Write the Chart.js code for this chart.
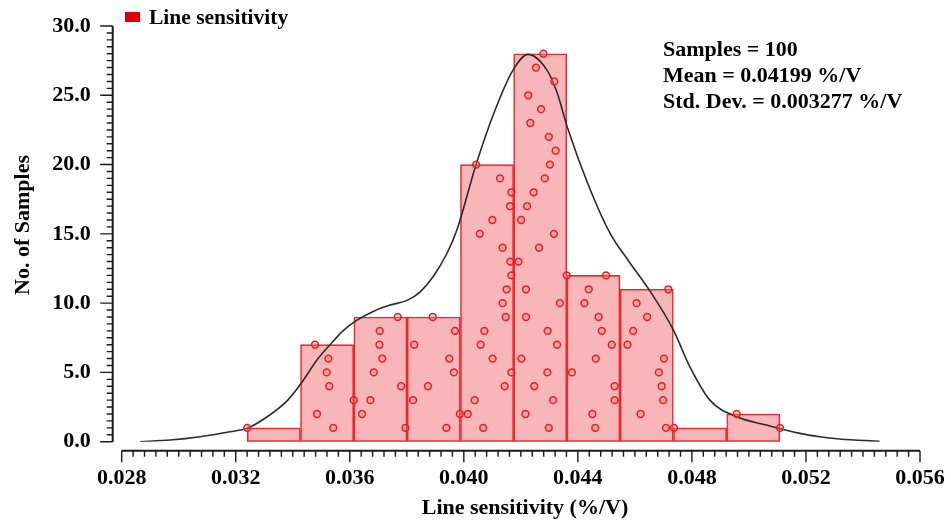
<!DOCTYPE html>
<html>
<head>
<meta charset="utf-8">
<script src="https://cdn.jsdelivr.net/npm/chart.js@4.4.0/dist/chart.umd.min.js"></script>
<style>
  body { margin: 0; background: #fff; }
  canvas { display: block; }
</style>
</head>
<body>
<canvas id="hist-canvas" width="951" height="523"></canvas>
<script>
// histogram bins (edges in %/V) and counts
var binEdges = [0.03240, 0.03427, 0.03614, 0.03801, 0.03988, 0.04175, 0.04361, 0.04548, 0.04735, 0.04922, 0.05109];
var binCounts = [1, 7, 9, 9, 20, 28, 12, 11, 1, 2];

// measured samples, grouped by bin and stacked from the bottom up
var sampleValues = [
    0.03240,
    0.03542, 0.03485, 0.03614, 0.03528, 0.03519, 0.03525, 0.03478,
    0.03795, 0.03643, 0.03672, 0.03780, 0.03684, 0.03714, 0.03704, 0.03705, 0.03768,
    0.03939, 0.03986, 0.03822, 0.03874, 0.03965, 0.03949, 0.03826, 0.03969, 0.03891,
    0.04068, 0.04014, 0.04038, 0.04143, 0.04167, 0.04101, 0.04059, 0.04072, 0.04147, 0.04136,
    0.04150, 0.04167, 0.04163, 0.04136, 0.04056, 0.04100, 0.04162, 0.04167, 0.04127, 0.04043,
    0.04298, 0.04216, 0.04313, 0.04247, 0.04293, 0.04202, 0.04327, 0.04294, 0.04218, 0.04337,
    0.04218, 0.04361, 0.04192, 0.04264, 0.04316, 0.04201, 0.04222, 0.04245, 0.04284, 0.04302,
    0.04322, 0.04298, 0.04233, 0.04271, 0.04226, 0.04317, 0.04253, 0.04279,
    0.04461, 0.04451, 0.04529, 0.04529, 0.04379, 0.04463, 0.04519, 0.04484, 0.04473, 0.04423, 0.04438, 0.04499,
    0.04709, 0.04620, 0.04699, 0.04694, 0.04684, 0.04702, 0.04574, 0.04594, 0.04643, 0.04606, 0.04717,
    0.04737,
    0.05109, 0.04957
];

// distribution curve
var curveX = [0.02864, 0.02970, 0.03075, 0.03180, 0.03240, 0.03296, 0.03380, 0.03429, 0.03485, 0.03531,
              0.03576, 0.03624, 0.03682, 0.03741, 0.03801, 0.03846, 0.03892, 0.03941, 0.03976, 0.04043,
              0.04109, 0.04172, 0.04225, 0.04292, 0.04327, 0.04363, 0.04443, 0.04514, 0.04576, 0.04652,
              0.04734, 0.04793, 0.04863, 0.04957, 0.05062, 0.05178, 0.05248, 0.05318, 0.05458];
var curveY = [0.0, 0.12, 0.36, 0.72, 0.97, 1.6, 2.95, 4.2, 5.9, 7.0,
              8.0, 8.75, 9.4, 9.86, 10.2, 10.8, 11.9, 13.6, 15.3, 20.0,
              23.9, 26.8, 27.95, 26.8, 25.2, 22.7, 18.2, 15.0, 13.1, 10.9,
              8.1, 5.4, 3.0, 1.8, 1.2, 0.6, 0.36, 0.2, 0.02];

var statLines = ['Samples = 100', 'Mean = 0.04199 %/V', 'Std. Dev. = 0.003277 %/V'];
var legendLabel = 'Line sensitivity';
var xTitle = 'Line sensitivity (%/V)';
var yTitle = 'No. of Samples';

var serif = '"Liberation Serif", "Times New Roman", serif';

// bars sit at bin centres
var barData = binCounts.map(function(n, i) {
    return { x: (binEdges[i] + binEdges[i + 1]) / 2, y: n };
});

// each sample stacked at level 1..n inside its bin
var pointData = [];
var k = 0;
binCounts.forEach(function(n) {
    for (var level = 1; level <= n; level++) {
        pointData.push({ x: sampleValues[k], y: level });
        k++;
    }
});

var curveData = curveX.map(function(x, i) { return { x: x, y: curveY[i] }; });

// axis lines are drawn a little away from the plot, with major and minor ticks,
// plus the axis titles, legend and statistics text
var offsetAxes = {
    id: 'offsetAxes',
    afterDraw: function(chart) {
        var c = chart.ctx;
        var xs = chart.scales.x, ys = chart.scales.y;
        var axisLeft = xs.left - 9;
        var axisBottom = ys.bottom + 9;
        c.save();
        c.strokeStyle = '#1a1a1a';
        c.lineWidth = 2;
        c.beginPath();
        c.moveTo(axisLeft, ys.getPixelForValue(30));
        c.lineTo(axisLeft, ys.getPixelForValue(0));
        c.moveTo(xs.getPixelForValue(0.028), axisBottom);
        c.lineTo(xs.getPixelForValue(0.056), axisBottom);
        c.stroke();

        c.lineWidth = 1.4;
        c.beginPath();
        for (var i = 0; i <= 60; i++) {
            var py = ys.getPixelForValue(i * 0.5);
            var len = (i % 10 === 0) ? 12.5 : 6;
            c.moveTo(axisLeft, py);
            c.lineTo(axisLeft - len, py);
        }
        for (var j = 0; j <= 70; j++) {
            var px = xs.getPixelForValue(0.028 + j * 0.0004);
            var tl = (j % 10 === 0) ? 11.5 : 6;
            c.moveTo(px, axisBottom);
            c.lineTo(px, axisBottom + tl);
        }
        c.stroke();

        c.fillStyle = '#000';
        c.font = 'bold 22px ' + serif;
        c.textAlign = 'center';
        c.textBaseline = 'middle';
        c.fillText(xTitle, 525, 508.5);
        c.save();
        c.translate(23.5, 225);
        c.rotate(-Math.PI / 2);
        c.fillText(yTitle, 0, 0);
        c.restore();

        // legend
        c.fillStyle = '#dd0000';
        c.fillRect(125, 12, 15, 10);
        c.fillStyle = '#000';
        c.font = 'bold 21.5px ' + serif;
        c.textBaseline = 'alphabetic';
        c.textAlign = 'left';
        c.fillText(legendLabel, 149, 24);

        // statistics box
        c.font = 'bold 22px ' + serif;
        statLines.forEach(function(s, n) {
            c.fillText(s, 663, 56 + n * 26);
        });
        c.restore();
    }
};

var ctx = document.getElementById('hist-canvas').getContext('2d');
var chart = new Chart(ctx, {
    type: 'bar',
    data: {
        datasets: [
            {
                type: 'scatter',
                label: 'samples',
                data: pointData,
                pointRadius: 3.4,
                pointBorderWidth: 1.5,
                borderColor: 'rgb(232, 30, 38)',
                backgroundColor: 'rgba(255, 120, 120, 0.35)',
                order: 0
            },
            {
                type: 'line',
                label: 'distribution',
                data: curveData,
                borderColor: '#2b2b2b',
                borderWidth: 1.6,
                pointRadius: 0,
                fill: false,
                cubicInterpolationMode: 'monotone',
                order: 1
            },
            {
                label: legendLabel,
                data: barData,
                backgroundColor: 'rgba(240, 80, 85, 0.42)',
                borderColor: 'rgb(235, 35, 40)',
                borderWidth: 1,
                borderSkipped: false,
                barPercentage: 1,
                categoryPercentage: 1,
                order: 2
            }
        ]
    },
    options: {
        responsive: false,
        animation: false,
        layout: { padding: { top: 26, right: 31, left: 0, bottom: 0 } },
        plugins: {
            legend: { display: false },
            tooltip: { enabled: false }
        },
        scales: {
            x: {
                type: 'linear',
                offset: false,
                min: 0.028,
                max: 0.056,
                grid: { display: false, drawTicks: false },
                border: { display: false },
                ticks: {
                    stepSize: 0.004,
                    autoSkip: false,
                    maxRotation: 0,
                    padding: 23.5,
                    color: '#000',
                    font: { family: serif, size: 22, weight: 'bold' },
                    callback: function(v) { return v.toFixed(3); }
                },
                afterFit: function(scale) {
                    scale.height = 81.3;
                    scale.paddingLeft = 0;
                    scale.paddingRight = 0;
                }
            },
            y: {
                min: 0,
                max: 30,
                grid: { display: false, drawTicks: false },
                border: { display: false },
                ticks: {
                    stepSize: 5,
                    padding: 31,
                    color: '#000',
                    font: { family: serif, size: 22, weight: 'bold' },
                    callback: function(v) { return v.toFixed(1); }
                },
                afterFit: function(scale) {
                    scale.width = 121.7;
                    scale.paddingTop = 0;
                    scale.paddingBottom = 0;
                }
            }
        }
    },
    plugins: [offsetAxes]
});
</script>
</body>
</html>
